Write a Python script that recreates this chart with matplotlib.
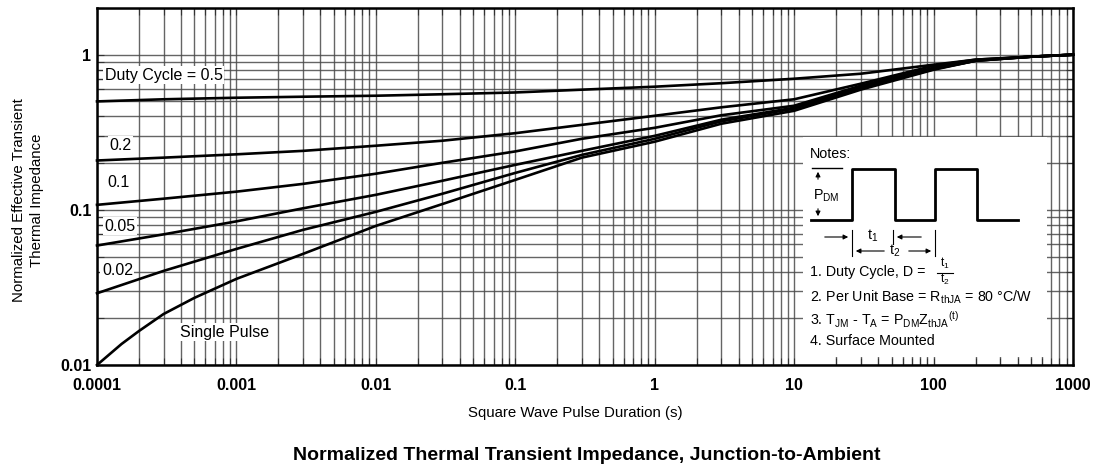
import matplotlib
matplotlib.use("Agg")
import matplotlib.pyplot as plt
from matplotlib.patches import Rectangle
from matplotlib.ticker import LogLocator, FixedLocator, NullFormatter

plt.rcParams['font.family'] = ['Liberation Sans', 'DejaVu Sans']

# ---------------- data ----------------
t = [1e-4, 3e-4, 1e-3, 3e-3, 1e-2, 3e-2, 0.1, 0.3, 1, 3, 10, 30, 100, 200, 500, 1000]
z_d050 = [0.500, 0.516, 0.528, 0.536, 0.544, 0.556, 0.571, 0.595, 0.622, 0.655, 0.700, 0.754, 0.862, 0.929, 0.971, 1.0]
z_d020 = [0.208, 0.217, 0.228, 0.240, 0.259, 0.279, 0.312, 0.353, 0.404, 0.458, 0.516, 0.650, 0.849, 0.929, 0.971, 1.0]
z_d010 = [0.1077, 0.118, 0.131, 0.147, 0.171, 0.201, 0.238, 0.287, 0.338, 0.407, 0.469, 0.631, 0.824, 0.922, 0.971, 1.0]
z_d005 = [0.0589, 0.0695, 0.0843, 0.1023, 0.125, 0.154, 0.195, 0.240, 0.300, 0.381, 0.455, 0.617, 0.812, 0.914, 0.971, 1.0]
z_d002 = [0.0290, 0.0404, 0.0560, 0.0743, 0.0971, 0.127, 0.173, 0.226, 0.287, 0.372, 0.449, 0.608, 0.806, 0.914, 0.971, 1.0]
t_single = [1e-4, 1.5e-4, 2e-4, 3e-4, 5e-4, 1e-3, 3e-3, 1e-2, 3e-2, 0.1, 0.3, 1, 3, 10, 30, 100, 200, 500, 1000]
z_single = [0.0100, 0.01366, 0.01656, 0.0213, 0.0271, 0.0359, 0.0520, 0.0788, 0.109, 0.156, 0.217, 0.275, 0.359,
            0.435, 0.595, 0.800, 0.914, 0.971, 1.0]

series = [z_d050, z_d020, z_d010, z_d005, z_d002]
series_labels = ["Duty Cycle = 0.5", "0.2", "0.1", "0.05", "0.02"]

x_ticks = [1e-4, 1e-3, 1e-2, 0.1, 1, 10, 100, 1000]
x_ticklabels = ["0.0001", "0.001", "0.01", "0.1", "1", "10", "100", "1000"]
y_ticks = [0.01, 0.1, 1]
y_ticklabels = ["0.01", "0.1", "1"]

# ---------------- figure ----------------
fig = plt.figure(figsize=(10.99, 4.71), dpi=100)
ax = fig.add_axes([97/1099, 1-365/471, 976/1099, 357/471])
ax.set_xscale('log')
ax.set_yscale('log')
ax.set_xlim(1e-4, 1000)
ax.set_ylim(0.01, 2)

for z in series:
    ax.plot(t, z, color='black', lw=1.9, zorder=3, clip_on=False)
ax.plot(t_single, z_single, color='black', lw=1.9, zorder=3, clip_on=False)

ax.xaxis.set_major_locator(FixedLocator(x_ticks))
ax.xaxis.set_minor_locator(LogLocator(base=10, subs=range(2, 10), numticks=20))
ax.yaxis.set_major_locator(FixedLocator(y_ticks))
ax.yaxis.set_minor_locator(LogLocator(base=10, subs=range(2, 10), numticks=20))
ax.xaxis.set_minor_formatter(NullFormatter())
ax.yaxis.set_minor_formatter(NullFormatter())
ax.set_xticklabels(x_ticklabels, fontsize=11.5, fontweight='bold')
ax.set_yticklabels(y_ticklabels, fontsize=11.5, fontweight='bold')

ax.grid(True, which='both', color='#4a4a4a', lw=1.0, alpha=0.85)
ax.tick_params(which='both', direction='in', top=True, right=True, length=5, width=0.8, color='#333333')
ax.tick_params(axis='x', which='major', pad=9)
ax.tick_params(axis='y', which='major', pad=4)
for s in ax.spines.values():
    s.set_linewidth(1.8)
    s.set_color('black')
    s.set_zorder(5)

# curve labels
label_pos = [(0.008, 0.812), (0.013, 0.616), (0.011, 0.510), (0.008, 0.389), (0.005, 0.266)]
for lab, (lx, ly) in zip(series_labels, label_pos):
    ax.text(lx, ly, lab, transform=ax.transAxes, fontsize=11.5, va='center', ha='left', zorder=4,
            bbox=dict(facecolor='white', edgecolor='none', pad=1.0))
ax.text(0.085, 0.092, "Single Pulse", transform=ax.transAxes, fontsize=11.5, va='center', ha='left', zorder=4,
        bbox=dict(facecolor='white', edgecolor='none', pad=1.0))

# notes box
ax.add_patch(Rectangle((0.723, 0.022), 0.250, 0.617, transform=ax.transAxes,
                       facecolor='white', edgecolor='none', zorder=3.5))

def fx(px):
    return (px - 97) / 976

def fy(py):
    return (365 - py) / 357

tr = ax.transAxes
kw = dict(transform=tr, zorder=4, fontsize=10.3, va='center', ha='left')
ax.text(fx(810), fy(154), "Notes:", **kw)
# waveform
wx = [811, 852, 852, 895, 895, 935, 935, 977, 977, 1018]
wy = [220, 220, 169, 169, 220, 220, 169, 169, 220, 220]
ax.plot([fx(v) for v in wx], [fy(v) for v in wy], transform=tr, color='black', lw=2.0, zorder=4, clip_on=False)
ax.plot([fx(812), fx(842)], [fy(168), fy(168)], transform=tr, color='black', lw=1.0, zorder=4)
arr = dict(arrowstyle='-|>', color='black', lw=0.8, mutation_scale=7)
ax.annotate("", xy=(fx(818), fy(169)), xytext=(fx(818), fy(182)), xycoords=tr, textcoords=tr, arrowprops=arr, zorder=4)
ax.annotate("", xy=(fx(818), fy(219)), xytext=(fx(818), fy(206)), xycoords=tr, textcoords=tr, arrowprops=arr, zorder=4)
ax.text(fx(813), fy(196), r"P$_{\mathregular{DM}}$", **kw)
# t1/t2 marks
for px, y0, y1 in [(852, 230, 256), (893, 230, 244), (935, 230, 256)]:
    ax.plot([fx(px), fx(px)], [fy(y0), fy(y1)], transform=tr, color='black', lw=0.8, zorder=4)
ax.annotate("", xy=(fx(851), fy(237)), xytext=(fx(822), fy(237)), xycoords=tr, textcoords=tr, arrowprops=arr, zorder=4)
ax.annotate("", xy=(fx(894), fy(237)), xytext=(fx(924), fy(237)), xycoords=tr, textcoords=tr, arrowprops=arr, zorder=4)
ax.text(fx(867), fy(236), r"t$_{\mathregular{1}}$", **kw)
ax.annotate("", xy=(fx(853), fy(251)), xytext=(fx(887), fy(251)), xycoords=tr, textcoords=tr, arrowprops=arr, zorder=4)
ax.annotate("", xy=(fx(934), fy(251)), xytext=(fx(906), fy(251)), xycoords=tr, textcoords=tr, arrowprops=arr, zorder=4)
ax.text(fx(889), fy(251), r"t$_{\mathregular{2}}$", **kw)
ax.text(fx(810), fy(272), "1. Duty Cycle, D = ", **kw)
ax.text(fx(945), fy(263), r"t$_{\mathregular{1}}$", **dict(kw, ha='center', fontsize=8.5))
ax.plot([fx(937), fx(953)], [fy(273), fy(273)], transform=tr, color='black', lw=0.8, zorder=4)
ax.text(fx(945), fy(279), r"t$_{\mathregular{2}}$", **dict(kw, ha='center', fontsize=8.5))
ax.text(fx(810), fy(297), r"2. Per Unit Base = R$_{\mathregular{thJA}}$ = 80 °C/W", **kw)
ax.text(fx(810), fy(320), r"3. T$_{\mathregular{JM}}$ - T$_{\mathregular{A}}$ = P$_{\mathregular{DM}}$Z$_{\mathregular{thJA}}$$^{\mathregular{(t)}}$", **kw)
ax.text(fx(810), fy(341), "4. Surface Mounted", **kw)

# axis labels / title
fig.text(28/1099, 1-200/471, "Normalized Effective Transient\nThermal Impedance", rotation=90,
         ha='center', va='center', fontsize=10.8, linespacing=1.4)
fig.text(575/1099, 1-413/471, "Square Wave Pulse Duration (s)", ha='center', va='center', fontsize=10.8)
fig.text(587/1099, 1-456/471, "Normalized Thermal Transient Impedance, Junction-to-Ambient",
         ha='center', va='center', fontsize=14, fontweight='bold')

fig.savefig("out.png", dpi=100)
